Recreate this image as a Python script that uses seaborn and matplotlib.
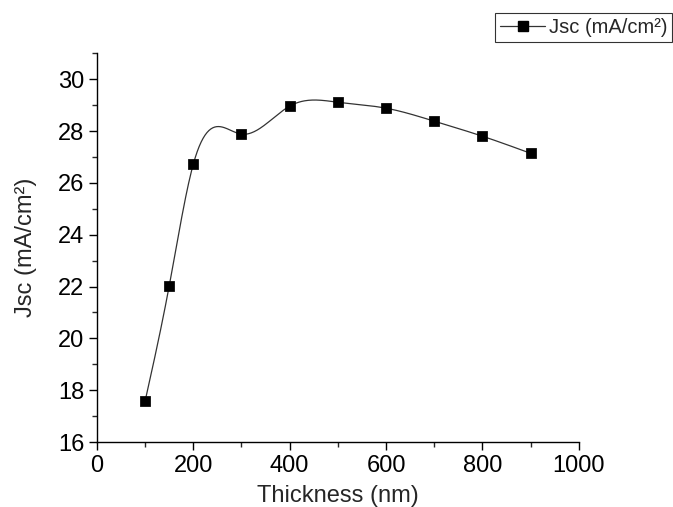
import numpy as np
import pandas as pd
import matplotlib
matplotlib.use("Agg")
import matplotlib.pyplot as plt
from matplotlib.lines import Line2D
from matplotlib.ticker import MultipleLocator
import seaborn as sns

# Jsc vs absorber thickness
thickness = [100, 150, 200, 300, 400, 500, 600, 700, 800, 900]
jsc = [17.58, 22.02, 26.72, 27.88, 28.96, 29.11, 28.88, 28.38, 27.80, 27.14]


def natural_spline(x, y, n=400):
    # natural cubic spline through the points (Origin "spline" connection)
    x = np.asarray(x, float)
    y = np.asarray(y, float)
    k = len(x)
    h = np.diff(x)
    A = np.zeros((k, k))
    b = np.zeros(k)
    A[0, 0] = A[-1, -1] = 1
    for i in range(1, k - 1):
        A[i, i - 1] = h[i - 1]
        A[i, i] = 2 * (h[i - 1] + h[i])
        A[i, i + 1] = h[i]
        b[i] = 6 * ((y[i + 1] - y[i]) / h[i] - (y[i] - y[i - 1]) / h[i - 1])
    M = np.linalg.solve(A, b)
    xs = np.linspace(x[0], x[-1], n)
    idx = np.clip(np.searchsorted(x, xs) - 1, 0, k - 2)
    x0, x1 = x[idx], x[idx + 1]
    hh = x1 - x0
    t0 = x1 - xs
    t1 = xs - x0
    ys = (M[idx] * t0**3 + M[idx + 1] * t1**3) / (6 * hh) \
        + (y[idx] / hh - M[idx] * hh / 6) * t0 \
        + (y[idx + 1] / hh - M[idx + 1] * hh / 6) * t1
    return xs, ys


df = pd.DataFrame({"thickness": thickness, "jsc": jsc})
xs, ys = natural_spline(thickness, jsc)
curve = pd.DataFrame({"thickness": xs, "jsc": ys})

sns.set_style("ticks")
plt.rcParams["font.family"] = ["Liberation Sans", "DejaVu Sans"]

fig = plt.figure(figsize=(6.73, 5.07), dpi=100)
ax = fig.add_axes([0.144, 0.128, 0.716, 0.767])

sns.lineplot(data=curve, x="thickness", y="jsc", ax=ax, color="#333333",
             linewidth=0.9, sort=False)
sns.scatterplot(data=df, x="thickness", y="jsc", ax=ax, marker="s",
                color="black", s=45, edgecolor="black", zorder=3)

ax.set_xlim(0, 1000)
ax.set_ylim(16, 31)
ax.xaxis.set_major_locator(MultipleLocator(200))
ax.xaxis.set_minor_locator(MultipleLocator(100))
ax.yaxis.set_minor_locator(MultipleLocator(1))
ax.set_yticks(range(16, 31, 2))
ax.tick_params(which="major", direction="out", length=6, width=1,
               labelsize=17, colors="black", pad=3)
ax.tick_params(which="minor", direction="out", length=3.5, width=1)
for s in ["top", "right"]:
    ax.spines[s].set_visible(False)
for s in ["left", "bottom"]:
    ax.spines[s].set_color("black")
    ax.spines[s].set_linewidth(1)

ax.set_xlabel("Thickness (nm)", fontsize=17, labelpad=6)
ax.set_ylabel("Jsc (mA/cm²)", fontsize=17, labelpad=15)

handle = Line2D([], [], color="#333333", linewidth=0.9, marker="s",
                markersize=7, markerfacecolor="black", markeredgecolor="black")
leg = fig.legend([handle], ["Jsc (mA/cm²)"], loc="upper right",
                 bbox_to_anchor=(0.999, 0.975), fontsize=14.5, frameon=True,
                 fancybox=False, handlelength=2.2, handletextpad=0.2,
                 borderpad=0.25, borderaxespad=0)
leg.get_frame().set_edgecolor("black")
leg.get_frame().set_linewidth(0.8)

fig.savefig("out.png", dpi=100)
